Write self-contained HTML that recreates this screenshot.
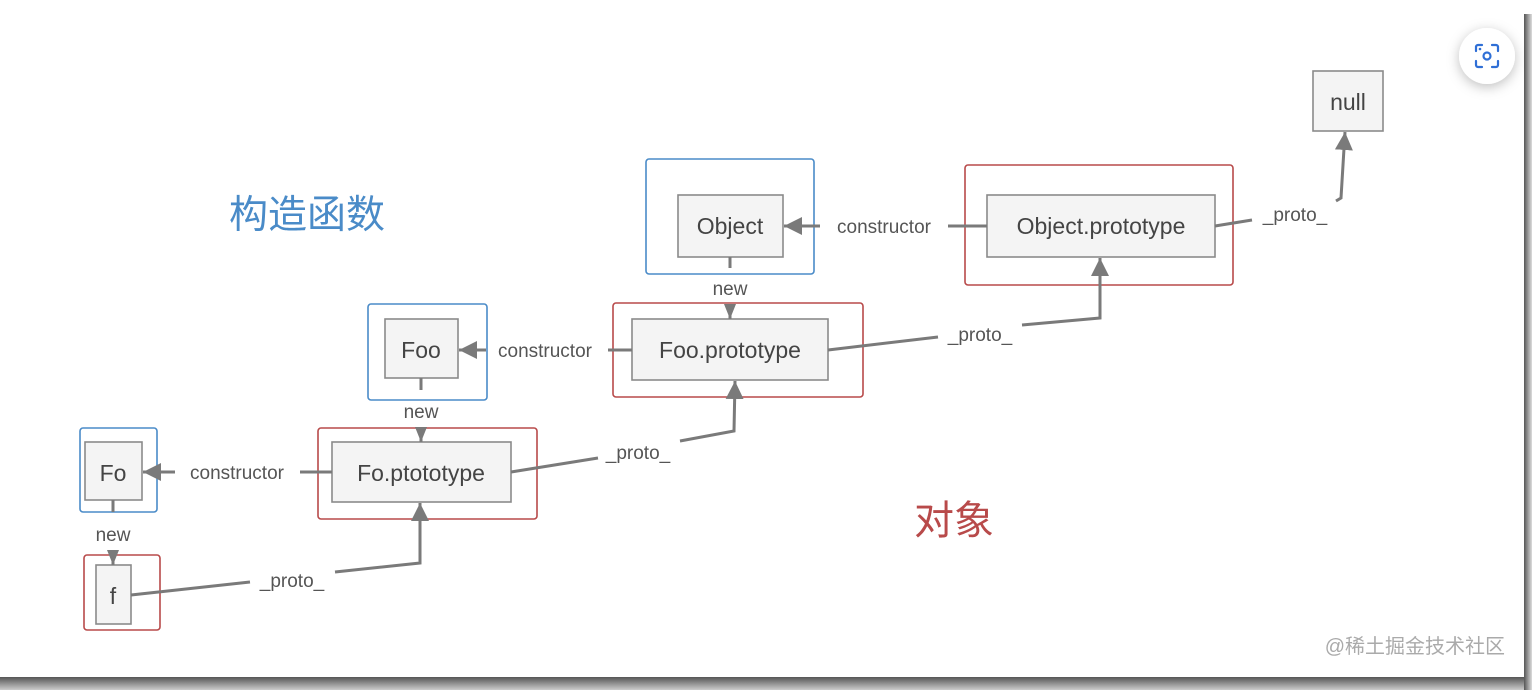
<!DOCTYPE html>
<html><head><meta charset="utf-8"><style>
html,body{margin:0;padding:0;background:#fff;width:1532px;height:690px;overflow:hidden}
svg{display:block}
text{font-family:"Liberation Sans","Noto Sans CJK SC",sans-serif}
</style></head><body>
<svg width="1532" height="690" viewBox="0 0 1532 690" xmlns="http://www.w3.org/2000/svg">
<defs>
<linearGradient id="gb" x1="0" y1="0" x2="0" y2="1"><stop offset="0" stop-color="#555"/><stop offset="1" stop-color="#ccc"/></linearGradient>
<linearGradient id="gr" x1="0" y1="0" x2="1" y2="0"><stop offset="0" stop-color="#555"/><stop offset="1" stop-color="#ddd"/></linearGradient>
<filter id="sh" x="-50%" y="-50%" width="200%" height="200%"><feDropShadow dx="0" dy="3" stdDeviation="6" flood-color="#000" flood-opacity="0.25"/></filter>
<marker id="ah" markerWidth="6" markerHeight="6" refX="6" refY="3" orient="auto" markerUnits="strokeWidth"><path d="M0,0 L6,3 L0,6 z" fill="#7a7a7a"/></marker>
<marker id="as" markerWidth="5" markerHeight="4" refX="5" refY="2" orient="auto" markerUnits="strokeWidth"><path d="M0,0 L5,2 L0,4 z" fill="#7a7a7a"/></marker>
</defs>
<rect x="0" y="677" width="1532" height="13" fill="url(#gb)"/>
<rect x="1524" y="14" width="8" height="676" fill="url(#gr)"/>
<rect x="12" y="15" width="1512" height="662" fill="#fff"/>

<g fill="none" stroke-width="1.6">
<rect x="965" y="165" width="268" height="120" rx="3" stroke="#b84a4a"/>
<rect x="646" y="159" width="168" height="115" rx="3" stroke="#4a8bc8"/>
<rect x="613" y="303" width="250" height="94" rx="3" stroke="#b84a4a"/>
<rect x="368" y="304" width="119" height="96" rx="3" stroke="#4a8bc8"/>
<rect x="318" y="428" width="219" height="91" rx="3" stroke="#b84a4a"/>
<rect x="80" y="428" width="77" height="84" rx="3" stroke="#4a8bc8"/>
<rect x="84" y="555" width="76" height="75" rx="3" stroke="#b84a4a"/>
</g>
<g fill="#f4f4f4" stroke="#8a8a8a" stroke-width="1.6">
<rect x="1313" y="71" width="70" height="60"/>
<rect x="987" y="195" width="228" height="62"/>
<rect x="678" y="195" width="105" height="62"/>
<rect x="632" y="319" width="196" height="61"/>
<rect x="385" y="319" width="73" height="59"/>
<rect x="332" y="442" width="179" height="60"/>
<rect x="85" y="442" width="57" height="58"/>
<rect x="96" y="565" width="35" height="59"/>
</g>

<g stroke="#7a7a7a" stroke-width="3" fill="none">
<line x1="987" y1="226" x2="948" y2="226"/><line x1="820" y1="226" x2="784" y2="226" marker-end="url(#ah)"/>
<line x1="632" y1="350" x2="608" y2="350"/><line x1="486" y1="350" x2="459" y2="350" marker-end="url(#ah)"/>
<line x1="332" y1="472" x2="300" y2="472"/><line x1="175" y1="472" x2="143" y2="472" marker-end="url(#ah)"/>
<line x1="730" y1="257" x2="730" y2="268"/><line x1="730" y1="306" x2="730" y2="319" marker-end="url(#as)"/>
<line x1="421" y1="378" x2="421" y2="390"/><line x1="421" y1="430" x2="421" y2="442" marker-end="url(#as)"/>
<line x1="113" y1="500" x2="113" y2="512"/><line x1="113" y1="555" x2="113" y2="565" marker-end="url(#as)"/>
<polyline points="131,595 250,582"/><polyline points="335,572 420,563 420,503" marker-end="url(#ah)"/>
<polyline points="511,472 598,458"/><polyline points="680,441 734,431 735,381" marker-end="url(#ah)"/>
<polyline points="828,350 938,337"/><polyline points="1022,325 1100,318 1100,258" marker-end="url(#ah)"/>
<polyline points="1215,226 1252,220"/><polyline points="1336,201 1341,198 1345,132" marker-end="url(#ah)"/>
</g>

<g fill="#444" font-size="23" text-anchor="middle">
<text x="1348" y="110">null</text>
<text x="1101" y="234">Object.prototype</text>
<text x="730" y="234">Object</text>
<text x="730" y="358">Foo.prototype</text>
<text x="421" y="358">Foo</text>
<text x="421" y="481">Fo.ptototype</text>
<text x="113" y="481">Fo</text>
<text x="113" y="604">f</text>
</g>
<g fill="#555" font-size="19" text-anchor="middle">
<text x="884" y="233">constructor</text>
<text x="545" y="357">constructor</text>
<text x="237" y="479">constructor</text>
<text x="730" y="295">new</text>
<text x="421" y="418">new</text>
<text x="113" y="541">new</text>
<text x="292" y="587">_proto_</text>
<text x="638" y="459">_proto_</text>
<text x="980" y="341">_proto_</text>
<text x="1295" y="221">_proto_</text>
</g>
<text x="229" y="228" font-size="39" fill="#4a8bc8">构造函数</text>
<text x="914" y="534" font-size="40" fill="#b84a4a">对象</text>
<text x="1505" y="653" font-size="20" fill="#aaa" text-anchor="end">@稀土掘金技术社区</text>

<circle cx="1487" cy="56" r="28" fill="#fff" filter="url(#sh)"/>
<g stroke="#2f6fd6" stroke-width="2.2" fill="none" stroke-linecap="round">
<path d="M1476,51 v-4 a2,2 0 0 1 2,-2 h4"/>
<path d="M1492,45 h4 a2,2 0 0 1 2,2 v4"/>
<path d="M1498,61 v4 a2,2 0 0 1 -2,2 h-4"/>
<path d="M1482,67 h-4 a2,2 0 0 1 -2,-2 v-4"/>
<circle cx="1487" cy="56" r="3.5"/>
</g>
<circle cx="1480" cy="49" r="1.3" fill="#2f6fd6"/>
</svg>
</body></html>
